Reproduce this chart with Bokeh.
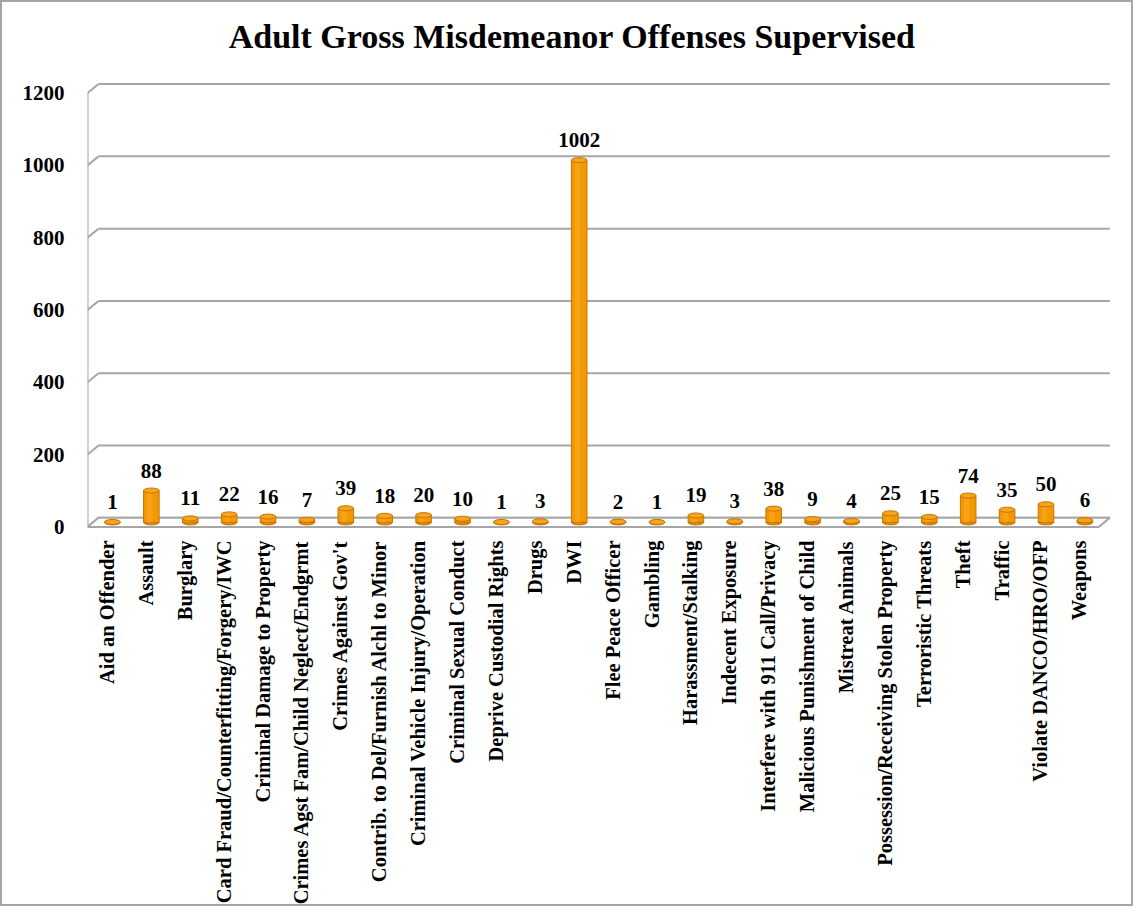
from bokeh.plotting import figure
from bokeh.models import FixedTicker, Range1d, ColumnDataSource, Label
from bokeh.embed import file_html
from bokeh.resources import INLINE
from bokeh.core.properties import value

categories = [
    "Aid an Offender", "Assault", "Burglary", "Card Fraud/Counterfitting/Forgery/IWC",
    "Criminal Damage to Property", "Crimes Agst Fam/Child Neglect/Endgrmt",
    "Crimes Against Gov't", "Contrib. to Del/Furnish Alchl to Minor",
    "Criminal Vehicle Injury/Operation", "Criminal Sexual Conduct",
    "Deprive Custodial Rights", "Drugs", "DWI", "Flee Peace Officer", "Gambling",
    "Harassment/Stalking", "Indecent Exposure", "Interfere with 911 Call/Privacy",
    "Malicious Punishment of Child", "Mistreat Animals",
    "Possession/Receiving Stolen Property", "Terroristic Threats", "Theft", "Traffic",
    "Violate DANCO/HRO/OFP", "Weapons",
]
values = [1, 88, 11, 22, 16, 7, 39, 18, 20, 10, 1, 3, 1002, 2, 1, 19, 3, 38, 9, 4,
          25, 15, 74, 35, 50, 6]
y_ticks = [0, 200, 400, 600, 800, 1000, 1200]
title_text = "Adult Gross Misdemeanor Offenses Supervised"

FONT = "Liberation Serif"
n = len(categories)
DX = 0.283   # depth offset (category units)
DY = 25.0    # depth offset (value units)
X0, X1 = -0.5, n - 0.5
YMAX = y_ticks[-1]
GRID = "#a6a6a6"
Y_TOP = YMAX + 250.6      # room above the walls for the chart title
TITLE_Y = YMAX + 157

p = figure(width=1133, height=906, output_backend="svg", toolbar_location=None,
           x_range=Range1d(X0, X1 + DX + 0.12), y_range=Range1d(-10, Y_TOP),
           min_border_left=85, min_border_right=21, min_border_top=0,
           min_border_bottom=378)
p.outline_line_color = None
p.xgrid.visible = False
p.ygrid.visible = False
p.background_fill_color = "white"
p.border_fill_color = "white"
p.styles = {"border": "2px solid #a6a6a6"}

# chart title
title = Label(x=(X0 + X1) / 2, y=TITLE_Y, x_units="data", y_units="data",
              text=title_text, text_align="center", text_baseline="alphabetic",
              x_offset=-21, text_font=FONT, text_font_size="34px",
              text_font_style="bold", text_color="black")
p.add_layout(title)

# 3D walls / grid
for v in y_ticks:
    p.segment(x0=[X0 + DX], y0=[v + DY], x1=[X1 + DX], y1=[v + DY],
              line_color=GRID, line_width=2)
    p.segment(x0=[X0], y0=[v], x1=[X0 + DX], y1=[v + DY],
              line_color=GRID, line_width=2)
p.segment(x0=[X0], y0=[0], x1=[X0], y1=[YMAX], line_color=GRID, line_width=2)
p.patch(x=[X0, X1, X1 + DX, X0 + DX], y=[0, 0, DY, DY], fill_color="white",
        line_color=GRID, line_width=2)

# cylinders
xs = [i + DX / 2 for i in range(n)]
base = [DY / 2] * n
tops = [v + DY / 2 for v in values]
src = ColumnDataSource(dict(x=xs, base=base, top=tops, val=[str(v) for v in values],
                            hx=[x - 0.04 for x in xs]))
BW = 0.40
EH = 14
p.ellipse(x="x", y="base", width=BW, height=EH, source=src,
          fill_color="#E48A00", line_color="#C87400", line_width=1)
p.vbar(x="x", bottom="base", top="top", width=BW, source=src,
       fill_color="#F29800", line_color="#C87400", line_width=1)
p.vbar(x="hx", bottom="base", top="top", width=0.14, source=src,
       fill_color="#F9A823", fill_alpha=0.7, line_color=None)
p.ellipse(x="x", y="top", width=BW, height=EH, source=src,
          fill_color="#F7A51C", line_color="#C87400", line_width=1)

p.text(x="x", y="top", text="val", source=src, text_align="center",
       text_baseline="alphabetic", y_offset=-20, text_font=value(FONT),
       text_font_size="21px", text_font_style="bold", text_color="black")

# axes
p.xaxis.ticker = FixedTicker(ticks=list(range(n)))
p.xaxis.major_label_overrides = {i: c for i, c in enumerate(categories)}
p.xaxis.major_label_orientation = 3.14159265 / 2
p.xaxis.axis_line_color = None
p.xaxis.major_tick_line_color = None
p.xaxis.minor_tick_line_color = None
p.xaxis.major_tick_in = 0
p.xaxis.major_tick_out = 0
p.xaxis.major_label_standoff = 10
p.xaxis.major_label_text_font = FONT
p.xaxis.major_label_text_font_size = "20.5px"
p.xaxis.major_label_text_font_style = "bold"
p.xaxis.major_label_text_color = "black"

p.yaxis.ticker = FixedTicker(ticks=y_ticks)
p.yaxis.axis_line_color = None
p.yaxis.major_tick_line_color = None
p.yaxis.minor_tick_line_color = None
p.yaxis.major_tick_in = 0
p.yaxis.major_tick_out = 0
p.yaxis.major_label_standoff = 23
p.yaxis.major_label_text_font = FONT
p.yaxis.major_label_text_font_size = "21px"
p.yaxis.major_label_text_font_style = "bold"
p.yaxis.major_label_text_color = "black"

open("out.html", "w").write(file_html(p, INLINE))
